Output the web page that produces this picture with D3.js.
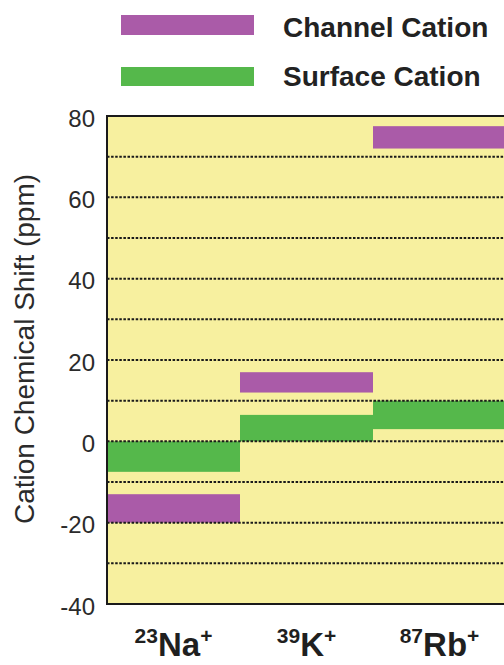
<!DOCTYPE html>
<html>
<head>
<meta charset="utf-8">
<script src="https://cdn.jsdelivr.net/npm/d3@7"></script>
<style>
  html, body { margin: 0; padding: 0; background: #fff; }
  svg { display: block; font-family: "Liberation Sans", Arial, Helvetica, sans-serif; }
</style>
</head>
<body>
<svg id="chart" width="504" height="665"></svg>
<script>
// Cations and their isotope mass numbers
const cations = ["Na", "K", "Rb"];
const massNumbers = ["23", "39", "87"];

// Chemical shift ranges (ppm) for each cation site
const channelLow  = [-20, 12, 72];
const channelHigh = [-13, 17, 77.5];
const surfaceLow  = [-7.5, 0, 3];
const surfaceHigh = [0, 6.5, 10];

// Axis ticks
const yTicks = [-40, -20, 0, 20, 40, 60, 80];
const gridValues = [-30, -20, -10, 0, 10, 20, 30, 40, 50, 60, 70];

const seriesNames = ["Channel Cation", "Surface Cation"];
const colors = { channel: "#aa5ba8", surface: "#55b84b" };

const svg = d3.select("#chart");
const plot = { left: 107, right: 506, top: 116, bottom: 604 };

const x = d3.scaleBand().domain(cations).range([plot.left, plot.right]).padding(0);
const y = d3.scaleLinear().domain([-40, 80]).range([plot.bottom, plot.top]);

// Plot background
svg.append("rect")
  .attr("x", plot.left).attr("y", plot.top)
  .attr("width", plot.right - plot.left).attr("height", plot.bottom - plot.top)
  .attr("fill", "#f7f09f");

// Floating range bars
const rows = cations.map((c, i) => ({
  c, ch: [channelLow[i], channelHigh[i]], sf: [surfaceLow[i], surfaceHigh[i]]
}));

svg.append("g").selectAll("rect").data(rows).join("rect")
  .attr("x", d => x(d.c)).attr("width", x.bandwidth())
  .attr("y", d => y(d.sf[1])).attr("height", d => y(d.sf[0]) - y(d.sf[1]))
  .attr("fill", colors.surface);

svg.append("g").selectAll("rect").data(rows).join("rect")
  .attr("x", d => x(d.c)).attr("width", x.bandwidth())
  .attr("y", d => y(d.ch[1])).attr("height", d => y(d.ch[0]) - y(d.ch[1]))
  .attr("fill", colors.channel);

// Dotted grid lines
svg.append("g").selectAll("line").data(gridValues).join("line")
  .attr("x1", plot.left).attr("x2", plot.right)
  .attr("y1", d => y(d)).attr("y2", d => y(d))
  .attr("stroke", "#1a1a1a").attr("stroke-width", 2)
  .attr("stroke-dasharray", "2.5,1.6");

// Frame
svg.append("rect")
  .attr("x", plot.left).attr("y", plot.top)
  .attr("width", plot.right - plot.left).attr("height", plot.bottom - plot.top)
  .attr("fill", "none").attr("stroke", "#1a1a1a").attr("stroke-width", 2);

// Y axis labels (plain hyphen for negatives)
const yAxis = d3.axisLeft(y).tickValues(yTicks).tickSize(0).tickPadding(12)
  .tickFormat(d => String(d));
const yg = svg.append("g").attr("transform", `translate(${plot.left},0)`).call(yAxis);
yg.select(".domain").remove();
yg.selectAll("text")
  .attr("font-size", 24).attr("fill", "#2b2b2b")
  .attr("font-family", "Liberation Sans, Arial, sans-serif")
  .attr("dy", "0.42em");

// Y axis title
svg.append("text")
  .attr("transform", `translate(34,349) rotate(-90)`)
  .attr("text-anchor", "middle")
  .attr("font-size", 28).attr("fill", "#2b2b2b")
  .text("Cation Chemical Shift (ppm)");

// X category labels with isotope superscripts
const xl = svg.append("g").selectAll("text").data(cations).join("text")
  .attr("x", d => x(d) + x.bandwidth() / 2)
  .attr("y", 656)
  .attr("text-anchor", "middle")
  .attr("font-weight", "bold").attr("fill", "#1f1f1f");
xl.append("tspan").attr("font-size", 21).attr("dy", -13).text((d, i) => massNumbers[i]);
xl.append("tspan").attr("font-size", 33).attr("dy", 13).text(d => d);
xl.append("tspan").attr("font-size", 21).attr("dy", -13).text("+");

// Legend
const legend = svg.append("g");
const legendRows = [
  { name: seriesNames[0], color: colors.channel, y: 15, h: 20, base: 36.5 },
  { name: seriesNames[1], color: colors.surface, y: 67, h: 19, base: 86 }
];
legend.selectAll("rect").data(legendRows).join("rect")
  .attr("x", 121).attr("y", d => d.y).attr("width", 133).attr("height", d => d.h)
  .attr("fill", d => d.color);
legend.selectAll("text").data(legendRows).join("text")
  .attr("x", 283).attr("y", d => d.base)
  .attr("font-size", 28).attr("font-weight", "bold").attr("fill", "#222")
  .text(d => d.name);
</script>
</body>
</html>
